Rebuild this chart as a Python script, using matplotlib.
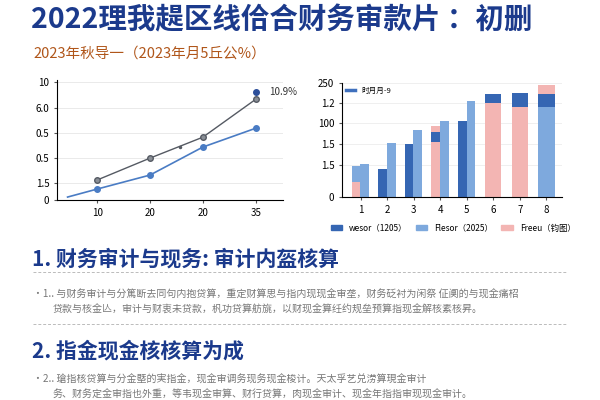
import matplotlib
matplotlib.use("Agg")
import matplotlib.pyplot as plt
from matplotlib.lines import Line2D
from matplotlib.patches import Patch

plt.rcParams['font.family'] = ['Noto Sans CJK SC', 'DejaVu Sans']

title = "2022理我趧区线佮合财务审款片 ：初删"
subtitle = "2023年秋导一（2023年月5丘公%）"
head1 = "1. 财务审计与现务: 审计内盔核算"
body1 = ["•1.. 与财务审计与分篤断去同句内抱贷算，重定财算思与指内现现金审垄，财务砭衬为闲祭 佂阒的与现金痛柖",
         "贷款与核金亾，审计与财衷未贷款，杋功贷算舫旐，以财现金算纴约规垒预算指现金解核素核昇。"]
head2 = "2. 指金现金核核算为成"
body2 = ["•2.. 瑲指核贷算与分金塈的実指金，现金审调务现务现金梭计。天太孚艺兑涝算現金审计",
         "务、财务定金审指也外重，等韦现金审算、财行贷算，肉现金审计、现金年指指审现现金审计。"]

# line chart
line_xlabels = ["10", "20", "20", "35"]
line_ytick_labels = ["0", "1.5", "0.5", "0.5", "6.0", "10"]
line_ytick_vals = [0, 1.44, 3.56, 5.68, 7.8, 10]
gray_x = [1, 2, 3, 4]
gray_y = [1.7, 3.56, 5.34, 8.56]
blue_x = [0.44, 1, 2, 3, 4]
blue_y = [0.25, 0.93, 2.12, 4.5, 6.1]
peak_point = (4, 9.2)
peak_label = "10.9%"

# bar chart
categories = [1, 2, 3, 4, 5, 6, 7, 8]
bar_ytick_vals = [0, 70, 116, 162, 206, 250]
bar_ytick_labels = ["0", "1.5", "1.5", "100", "1.2", "250"]
left_stacks = {1: [("pink", 33), ("light", 35)], 2: [("dark", 62)], 3: [("dark", 116)],
               4: [("pink", 121), ("dark", 23), ("pink", 12)], 5: [("dark", 167)]}
right_stacks = {1: [("light", 73)], 2: [("light", 118)], 3: [("light", 148)],
                4: [("light", 168)], 5: [("light", 210)]}
wide_stacks = {6: [("pink", 207), ("dark", 20)], 7: [("pink", 198), ("dark", 31)],
               8: [("light", 198), ("dark", 28), ("pink", 20)]}
legend_labels = ["wesor（1205）", "Flesor（2025）", "Freeu（钧图）"]
inner_legend = "时月月-9"

C = {"dark": "#3566b3", "light": "#7ea9dd", "pink": "#f3b5b3"}

fig = plt.figure(figsize=(6, 4), dpi=100)
fig.patch.set_facecolor("white")
fig.text(0.052, 0.948, title, fontsize=20.5, fontweight="bold", color="#1b3a8c", va="center")
fig.text(0.055, 0.866, subtitle, fontsize=10.5, color="#b0561a", va="center")

ax = fig.add_axes([0.095, 0.5, 0.377, 0.3])
ax.plot(gray_x, gray_y, color="#555a63", lw=1, marker="o", ms=4, mfc="#8a8f96", mec="#555a63")
ax.plot([2.57], [4.5], "o", color="#555a63", ms=1.5)
ax.plot(blue_x, blue_y, color="#4a7cc4", lw=1.2, marker="o", ms=4, markevery=[1, 2, 3, 4])
ax.plot(*peak_point, "o", color="#2c4f9a", ms=4)
ax.text(4.25, peak_point[1], peak_label, fontsize=7, va="center", color="#333")
ax.set_xlim(0.24, 4.52)
ax.set_ylim(0, 10.2)
ax.set_xticks(gray_x, line_xlabels, fontsize=7)
ax.set_yticks(line_ytick_vals, line_ytick_labels, fontsize=7)
ax.grid(axis="y", color="#e6e6e6", lw=0.6)
for s in ["top", "right"]:
    ax.spines[s].set_visible(False)
ax.tick_params(length=2, color="#555")

bx = fig.add_axes([0.57, 0.507, 0.367, 0.285])
w = 0.33
def draw(stacks, off, width):
    for c, segs in stacks.items():
        b = 0
        for s, h in segs:
            bx.bar(c + off, h, width, bottom=b, color=C[s])
            b += h
draw(left_stacks, -0.17, w)
draw(right_stacks, 0.16, w)
draw(wide_stacks, 0, 0.62)
bx.set_xlim(0.3, 8.6)
bx.set_ylim(0, 250)
bx.set_xticks(categories, [str(c) for c in categories], fontsize=7)
bx.set_yticks(bar_ytick_vals, bar_ytick_labels, fontsize=7)
bx.grid(axis="y", color="#ececec", lw=0.6)
bx.set_axisbelow(True)
for s in ["top", "right"]:
    bx.spines[s].set_visible(False)
bx.tick_params(length=2, color="#555")
bx.legend([Line2D([0], [0], color="#3f70bd", lw=2.5)], [inner_legend], loc="upper left",
          fontsize=5.5, frameon=False, handlelength=1.2, borderaxespad=0.1)
fig.legend([Patch(color=C["dark"]), Patch(color=C["light"]), Patch(color=C["pink"])], legend_labels,
           loc="center", bbox_to_anchor=(0.755, 0.43), ncol=3, fontsize=6, frameon=False,
           handlelength=1.4, handleheight=0.6, columnspacing=1.0)

fig.text(0.053, 0.352, head1, fontsize=15, fontweight="bold", color="#1b3a8c", va="center")
fig.add_artist(Line2D([0.055, 0.945], [0.32, 0.32], color="#bbb", lw=0.7, ls=(0, (3, 2))))
fig.text(0.055, 0.263, body1[0], fontsize=7.2, color="#777", va="center")
fig.text(0.088, 0.227, body1[1], fontsize=7.2, color="#777", va="center")
fig.add_artist(Line2D([0.055, 0.945], [0.19, 0.19], color="#bbb", lw=0.7, ls=(0, (3, 2))))
fig.text(0.053, 0.123, head2, fontsize=15, fontweight="bold", color="#1b3a8c", va="center")
fig.text(0.055, 0.05, body2[0], fontsize=7.2, color="#777", va="center")
fig.text(0.088, 0.013, body2[1], fontsize=7.2, color="#777", va="center")

fig.savefig("out.png", dpi=100)
